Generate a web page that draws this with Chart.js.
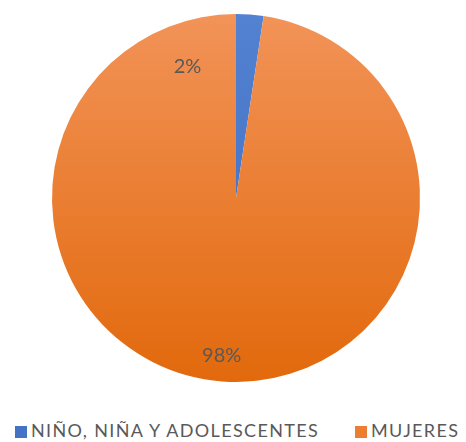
<!DOCTYPE html>
<html>
<head>
<meta charset="utf-8">
<script src="https://cdn.jsdelivr.net/npm/chart.js@4"></script>
<style>
  html, body { margin: 0; padding: 0; background: #ffffff; }
  #wrap { width: 466px; height: 442px; position: relative; }
  #legend { position: absolute; left: 0; top: 418px; width: 466px; height: 24px;
            font: 18px Lato, "Open Sans", sans-serif; color: #595959; letter-spacing: 1.35px; }
  #legend span { position: absolute; top: 0; line-height: 24px; white-space: nowrap; }
  #legend i { display: inline-block; width: 12px; height: 12px; margin-right: 4px; vertical-align: -1px; }
</style>
</head>
<body>
<div id="wrap">
  <canvas id="myChart" width="466" height="396"></canvas>
  <div id="legend"></div>
</div>
<script>
// data
const categories = ['NIÑO, NIÑA Y ADOLESCENTES', 'MUJERES'];
const shares = [2.4, 97.6];
const pctLabels = ['2%', '98%'];

const sliceTop = ['#5482d2', '#f29358'];
const sliceBottom = ['#3b6abf', '#e2690c'];
const legendColors = ['#4472c4', '#ed7d31'];

// vertical gradient like the office-style fill
function sliceFill(c) {
    const area = c.chart.chartArea;
    const i = c.dataIndex;
    if (!area) return sliceBottom[i];
    const g = c.chart.ctx.createLinearGradient(0, area.top, 0, area.bottom);
    g.addColorStop(0, sliceTop[i]);
    g.addColorStop(1, sliceBottom[i]);
    return g;
}

// percent labels, placed relative to each arc
const labelSpots = [
    { turn: -0.43, dist: 0.76 },  // small slice: label sits beside it
    { turn: 0.015, dist: 0.86 }
];
const pctPlugin = {
    id: 'pctPlugin',
    afterDatasetsDraw(chart) {
        const c = chart.ctx;
        const arcs = chart.getDatasetMeta(0).data;
        c.save();
        c.font = '20px Lato, "Open Sans", sans-serif';
        c.fillStyle = '#595959';
        c.textAlign = 'center';
        c.textBaseline = 'middle';
        arcs.forEach(function(arc, i) {
            const mid = (arc.startAngle + arc.endAngle) / 2 + labelSpots[i].turn;
            const r = arc.outerRadius * labelSpots[i].dist;
            c.fillText(pctLabels[i], arc.x + Math.cos(mid) * r, arc.y + Math.sin(mid) * r);
        });
        c.restore();
    }
};

const ctx = document.getElementById('myChart').getContext('2d');
const chart = new Chart(ctx, {
    type: 'pie',
    data: {
        labels: categories,
        datasets: [{
            data: shares,
            backgroundColor: sliceFill,
            borderWidth: 0
        }]
    },
    options: {
        responsive: false,
        animation: false,
        layout: { padding: { top: 14, bottom: 14, left: 6 } },
        plugins: {
            tooltip: { enabled: false },
            legend: { display: false }
        }
    },
    plugins: [pctPlugin]
});

// legend line under the pie
const legendLefts = [15, 355];
const legendBox = document.getElementById('legend');
categories.forEach(function(name, i) {
    const s = document.createElement('span');
    s.style.left = legendLefts[i] + 'px';
    s.innerHTML = '<i style="background:' + legendColors[i] + '"></i>' + name;
    legendBox.appendChild(s);
});
</script>
</body>
</html>
